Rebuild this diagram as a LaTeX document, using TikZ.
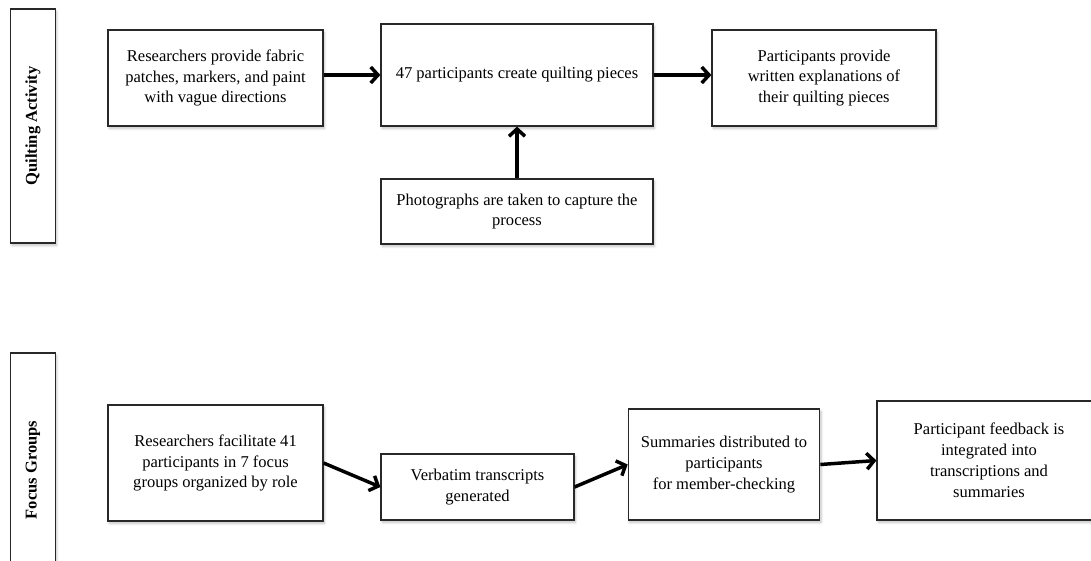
\documentclass[tikz,border=0pt]{standalone}
\usepackage{fontspec}
\setmainfont{Liberation Serif}
\usepackage{tikz}
\usetikzlibrary{arrows.meta,shadows.blur,positioning}
\definecolor{boxline}{RGB}{40,40,40}
\tikzset{
  procbox/.style={draw=boxline, line width=0.9pt, fill=white, align=center, inner sep=2pt,
    blur shadow={shadow xshift=1pt, shadow yshift=-1.8pt, shadow blur steps=6, shadow opacity=25},
    font=\fontsize{12.4}{15.7}\selectfont},
  phasebox/.style={procbox, rotate=90, font=\fontsize{12.4}{15.7}\selectfont\bfseries,
    minimum width=175.5pt, minimum height=33.5pt},
  flow/.style={line width=2.6pt, -{Straight Barb[length=5.5pt,width=12pt]}}
}

\begin{document}
\begin{tikzpicture}[x=0.75pt, y=-0.75pt]
\useasboundingbox (0,0) rectangle (1091,560);

\node[phasebox] (quilt) at (33,126) {Quilting Activity};
\node[phasebox] (focus) at (33,470) {Focus Groups};

\node[procbox, minimum width=161.25pt, minimum height=72pt] (resprov) at (215.5,78)
  {Researchers provide fabric\\patches, markers, and paint\\with vague directions};
\node[procbox, minimum width=204pt, minimum height=76.5pt] (create) at (517,75)
  {47 participants create quilting pieces};
\node[procbox, minimum width=204pt, minimum height=48.75pt] (photos) at (517,211.5)
  {Photographs are taken to capture the\\process};
\node[procbox, minimum width=168pt, minimum height=72pt] (explain) at (824,78)
  {Participants provide\\written explanations of\\their quilting pieces};

\node[procbox, minimum width=161.25pt, minimum height=87pt] (facil) at (215.5,463)
  {Researchers facilitate 41\\participants in 7 focus\\groups organized by role};
\node[procbox, minimum width=144.75pt, minimum height=49.5pt] (verbatim) at (477.5,487)
  {Verbatim transcripts\\generated};
\node[procbox, minimum width=143.6pt, minimum height=83.25pt] (summ) at (724,464.5)
  {Summaries distributed to\\participants\\for member-checking};
\node[procbox, minimum width=168pt, minimum height=89.25pt] (feedback) at (989,460.5)
  {Participant feedback is\\integrated into\\transcriptions and\\summaries};

\draw[flow] (create.west -| resprov.east) -- (create.west);
\draw[flow] (create.east) -- (create.east -| explain.west);
\draw[flow] (photos.north) -- (create.south);

\draw[flow] (facil.east) -- (verbatim.west);
\draw[flow] (verbatim.east) -- (summ.west);
\draw[flow] (summ.east) -- (feedback.west);
\end{tikzpicture}
\end{document}
